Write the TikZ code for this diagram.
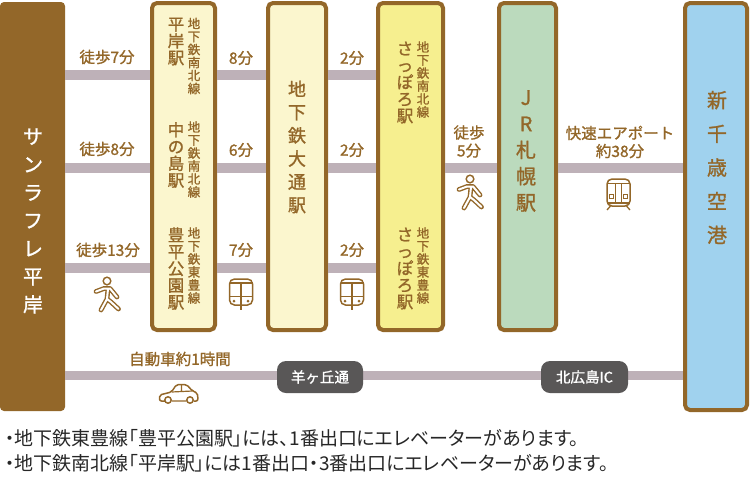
\documentclass[tikz,border=0pt]{standalone}
\usepackage{fontspec}
\newfontfamily\cjk[FakeBold=1.2]{Noto Sans CJK JP}
\newfontfamily\cjkthin[RawFeature=+palt]{Noto Sans CJK JP}
\definecolor{brownline}{HTML}{936729}
\definecolor{trackgray}{HTML}{BEB1B8}
\definecolor{badgegray}{HTML}{595757}
\definecolor{palecream}{HTML}{FBF6CE}
\definecolor{paleyellow}{HTML}{F6EF8F}
\definecolor{palegreen}{HTML}{BBDABD}
\definecolor{paleblue}{HTML}{A0D2EE}
\tikzset{
  station/.style={draw=brownline,line width=4pt,rounded corners=5pt,inner sep=0pt},
  track/.style={trackgray,line width=9.5pt},
  badge/.style={fill=badgegray,rounded corners=9pt,minimum height=32pt,text=white,inner sep=0pt,font=\cjk\fontsize{14.5}{16}\selectfont},
  timelabel/.style={text=brownline,align=center,inner sep=0pt,font=\cjk\fontsize{15.5}{18}\selectfont},
  stname/.style={text=brownline,align=center,inner sep=0pt,font=\cjk\fontsize{16.5}{16.8}\selectfont},
  lnname/.style={text=brownline,align=center,inner sep=0pt,font=\cjk\fontsize{12.5}{13}\selectfont},
  bigname/.style={text=brownline,align=center,inner sep=0pt,font=\cjk\fontsize{18}{23.2}\selectfont},
  notetext/.style={anchor=west,text=black!85,inner sep=0pt,font=\cjkthin\fontsize{19}{20}\selectfont},
  walker/.pic={
    \fill[brownline] (0,-14) circle (4.6);
    \fill[white] (0,-14) circle (2.9);
    \draw[brownline,line width=4.8pt,line cap=round,line join=round]
      (-11,-3.5) -- (-3,-6.5) -- (3,-6.5) -- (10,2) (1,-6) -- (0,4) -- (-6,15) (0,4) -- (4,7) -- (11.5,14);
    \draw[white,line width=2pt,line cap=round,line join=round]
      (-11,-3.5) -- (-3,-6.5) -- (3,-6.5) -- (10,2) (1,-6) -- (0,4) -- (-6,15) (0,4) -- (4,7) -- (11.5,14);
  },
  frontrain/.pic={
    \draw[brownline,line width=1.5pt,rounded corners=5pt] (-11.5,-16) rectangle (11.5,10);
    \draw[brownline,line width=1.3pt] (-11.5,-12) -- (11.5,-12) (-11.5,1.5) -- (11.5,1.5);
    \draw[brownline,line width=1.3pt] (0,-12) -- (0,15);
    \fill[brownline] (-7,6) circle (1.5) (7,6) circle (1.5);
  },
  wagon/.pic={
    \draw[brownline,line width=1.5pt,rounded corners=5pt] (-11.5,-16) rectangle (11.5,11);
    \draw[brownline,line width=1.2pt] (-11.5,-11.5) -- (11.5,-11.5) (-3,-11.5) -- (-3,8) (3,-11.5) -- (3,8) (-11.5,8) -- (11.5,8);
    \draw[brownline,line width=1pt] (-9,-1) rectangle (-5,3) (5,-1) rectangle (9,3);
    \draw[brownline,line width=1.3pt] (-8,11) -- (-11.5,15) (8,11) -- (11.5,15);
  },
  autocar/.pic={
    \draw[brownline,line width=1.5pt,line join=round,rounded corners=2pt] (-13.5,7) -- (-19,7) -- (-19,1) -- (-7,-2) -- (-2,-9.5) -- (8,-9.5) -- (14,-3) -- (19,-1) -- (19.5,7) -- (15,7);
    \draw[brownline,line width=1.2pt] (-7,-2) -- (14,-3) (3,-9.5) -- (3,-2.5) (-7,7) -- (8,7);
    \draw[brownline,line width=1.5pt] (-10.5,6) circle (3.2) (11.5,6) circle (3.2);
  }
}
\begin{document}
\begin{tikzpicture}[x=1pt,y=-1pt]
  \useasboundingbox (0,0) rectangle (750,477);
  % rows of the tracks
  \coordinate (rowa) at (0,75);
  \coordinate (rowb) at (0,168);
  \coordinate (rowc) at (0,268);
  \coordinate (rowd) at (0,375.5);

  % the tall boxes
  \node (sun) [fill=brownline,rounded corners=4pt,minimum width=65pt,minimum height=409pt,inner sep=0pt] at (32.5,206.5) {};
  \node (subway) [station,fill=palecream,minimum width=63pt,minimum height=327pt] at (183.5,166.5) {};
  \node (odori) [station,fill=palecream,minimum width=58pt,minimum height=327pt] at (297,166.5) {};
  \node (susu) [station,fill=paleyellow,minimum width=65pt,minimum height=327pt] at (410.5,166.5) {};
  \node (jr) [station,fill=palegreen,minimum width=57pt,minimum height=327pt] at (527.5,166.5) {};
  \node (chitose) [station,fill=paleblue,minimum width=62pt,minimum height=407pt] at (716,206.5) {};

  % tracks
  \draw [track] (sun.east |- rowa) -- (subway.west |- rowa);
  \draw [track] (sun.east |- rowb) -- (subway.west |- rowb);
  \draw [track] (sun.east |- rowc) -- (subway.west |- rowc);
  \draw [track] (subway.east |- rowa) -- (odori.west |- rowa);
  \draw [track] (subway.east |- rowb) -- (odori.west |- rowb);
  \draw [track] (subway.east |- rowc) -- (odori.west |- rowc);
  \draw [track] (odori.east |- rowa) -- (susu.west |- rowa);
  \draw [track] (odori.east |- rowb) -- (susu.west |- rowb);
  \draw [track] (odori.east |- rowc) -- (susu.west |- rowc);
  \draw [track] (susu.east |- rowb) -- (jr.west |- rowb);
  \draw [track] (jr.east |- rowb) -- (chitose.west |- rowb);
  \draw [track] (sun.east |- rowd) -- (chitose.west |- rowd);
  \node (hitsuji) [badge,minimum width=86pt] at (320,377) {羊ヶ丘通};
  \node (kitahiro) [badge,minimum width=87pt] at (584.5,377) {北広島IC};

  % names in the boxes
  \node (sunname) [text=white,align=center,inner sep=0pt,font=\cjk\fontsize{20}{28}\selectfont] at (33,221) {サ\\ン\\ラ\\フ\\レ\\平\\岸};
  \node (hiraname) [stname] at (176,41.5) {平\\岸\\駅};
  \node (hiraline) [lnname] at (194,56) {地\\下\\鉄\\南\\北\\線};
  \node (nakaname) [stname] at (176,155) {中\\の\\島\\駅};
  \node (nakaline) [lnname] at (194,159.5) {地\\下\\鉄\\南\\北\\線};
  \node (toyoname) [stname] at (176,268.5) {豊\\平\\公\\園\\駅};
  \node (toyoline) [lnname] at (194,265.5) {地\\下\\鉄\\東\\豊\\線};
  \node (odoriname) [bigname] at (297,147) {地\\下\\鉄\\大\\通\\駅};
  \node (susuname) [stname] at (405,82.5) {さ\\っ\\ぽ\\ろ\\駅};
  \node (susuline) [lnname] at (423,79.5) {地\\下\\鉄\\南\\北\\線};
  \node (susuntwo) [stname] at (405,268.5) {さ\\っ\\ぽ\\ろ\\駅};
  \node (susultwo) [lnname] at (423,265.5) {地\\下\\鉄\\東\\豊\\線};
  \node (jrname) [text=brownline,align=center,inner sep=0pt,font=\cjk\fontsize{20}{26.3}\selectfont] at (526,151) {J\\R\\札\\幌\\駅};
  \node (airname) [text=brownline,align=center,inner sep=0pt,font=\cjk\fontsize{20}{33.7}\selectfont] at (717,167.5) {新\\千\\歳\\空\\港};

  % times
  \node (walkseven) [timelabel] at (107,57) {徒歩7分};
  \node (walkeight) [timelabel] at (107,149) {徒歩8分};
  \node (walkthirteen) [timelabel] at (108,250) {徒歩13分};
  \node (mineight) [timelabel] at (241,58) {8分};
  \node (minsix) [timelabel] at (241,150) {6分};
  \node (minseven) [timelabel] at (241,250) {7分};
  \node (twoa) [timelabel] at (352,58) {2分};
  \node (twob) [timelabel] at (352,150) {2分};
  \node (twoc) [timelabel] at (352,250) {2分};
  \node (walkfive) [timelabel] at (469,141.5) {徒歩\\5分};
  \node (rapid) [timelabel] at (620,142) {快速エアポート\\約38分};
  \node (bycar) [timelabel] at (180,359) {自動車約1時間};

  % icons
  \pic at (107,295) {walker};
  \pic at (470,193) {walker};
  \pic at (241,295) {frontrain};
  \pic at (352,295) {frontrain};
  \pic at (618.5,195) {wagon};
  \pic at (178.5,394) {autocar};

  % notes
  \node (notea) [notetext] at (5,438) {・地下鉄東豊線「豊平公園駅」には、1番出口にエレベーターがあります。};
  \node (noteb) [notetext] at (5,463) {・地下鉄南北線「平岸駅」には1番出口・3番出口にエレベーターがあります。};
\end{tikzpicture}
\end{document}
